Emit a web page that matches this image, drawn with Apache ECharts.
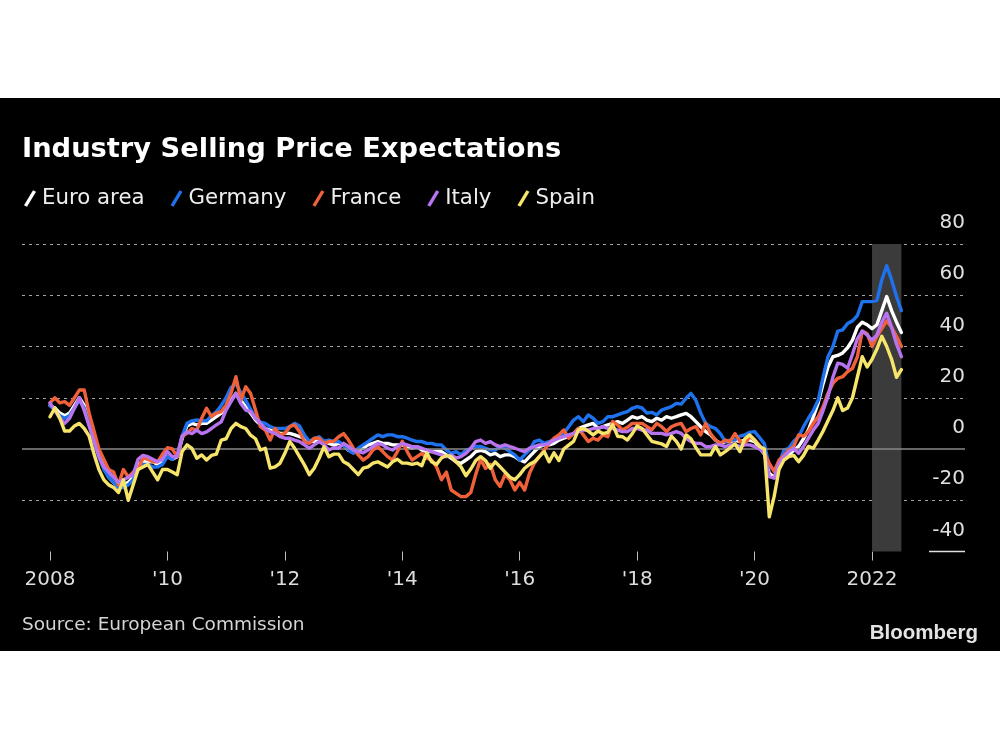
<!DOCTYPE html>
<html>
<head>
<meta charset="utf-8">
<script src="https://cdn.jsdelivr.net/npm/echarts@6/dist/echarts.min.js"></script>
<style>
html,body{margin:0;padding:0;background:#fff;}
#chart{width:1000px;height:750px;background:linear-gradient(to bottom,#fff 0,#fff 98px,#000 98px,#000 651px,#fff 651px,#fff 750px);}
</style>
</head>
<body>
<div id="chart"></div>
<script>
// Monthly data, Jan 2008 .. Jul 2022 (balance of responses)
const startYear = 2008;
const seriesNames = ['Euro area', 'Germany', 'France', 'Italy', 'Spain'];
const euroArea = [
 17,16,14,13,14,17,20,17,11,4,-2,-7,
 -11,-13,-15,-14,-13,-11,-6,-5,-5,-5,-6,-5,
 -3,-4,-3,4,9,10,9.4,10,10,11.3,12.6,14,
 16.5,19,21.7,19,16.5,14,11.3,9.4,8,7.4,6.8,6.1,
 6.1,6.1,5.5,4.8,4.2,2.9,2.9,3.5,2.9,2.2,1.5,2.2,
 1.5,-0.5,-1,-0.5,0.3,1.6,2.2,2.9,2.2,2.2,1.6,1.6,
 1.6,0.9,0.3,0.9,-0.4,-1,-1,-1,-1,-2.3,-3.6,-5,
 -5.6,-4.3,-3,-1,-0.5,-1,-2.3,-1.7,-3,-2.3,-2.3,-3,
 -4.3,-5,-3,-1,0.9,1.6,1.6,2.2,3.5,4.2,4.8,6.1,
 8,8.7,9.4,10,8,8.7,9.4,10,10.7,10,11.3,12.6,
 12,12.6,11.3,10.7,12,11.3,12.6,12,12.6,13.3,13.9,12.6,
 10.7,8.7,6.8,5.5,3.5,2.2,2.9,2.9,3.5,2.9,3.5,3.5,
 2.9,0.5,-2,-9.5,-11,-7,-3,-2.3,-0.5,1,4,7.5,
 12.5,18,25.5,32,36,36.5,37.5,39.5,42.5,47.5,49.5,48.5,
 47,48.5,54,59.5,54,49.5,45.5
];
const germany = [
 17,15,13,12,13,16,19,16,10,3,-3,-8,
 -11,-13,-15,-15,-14,-12,-8,-6,-6,-7,-7,-6,
 -3,-4,-2,5,10,11,11.3,11,11,13,14.5,17,
 20,24,25.5,22,19,15.5,12,10.5,10,8.7,8,8,
 8,8.7,10,9,5.4,3,4,4.8,3,3.5,2.9,2.9,
 1.6,-0.4,-1.7,0.3,1.6,2.9,4.2,5.5,4.8,5.5,5.5,4.8,
 4.8,4.2,3.5,2.9,2.9,2.2,2.2,1.6,1.6,-0.4,-1.7,-1,
 -2.3,-0.4,0,1,1,0.3,-0.4,-0.4,0.9,0.3,-1,-2.3,
 -4.3,-2.3,-0.4,2.9,3.5,2.2,2.9,3.5,4.8,6.1,8.7,11.3,
 12.6,10.7,13.3,12,10,10.7,12.6,12.6,13.3,14,14.6,15.9,
 16.5,16,14,14.3,13.3,15.2,15.9,16.5,17.8,17.5,19.8,21.7,
 19,14,10,8.7,8,6,3,3.5,3.5,5,5.5,6.5,
 6.8,4.5,2,-7,-8,-5.6,-0.4,0.3,3,4.8,8.7,12,
 15,19,28,36,40,46,46.5,49,50,52,57.5,57.5,
 57.5,58,66,71.5,66,59.5,54
];
const france = [
 18,20,18,18.5,17,20,23,23,14,7,0,-4,
 -8,-9,-14,-8,-11,-9,-8,-3.5,-4,-5,-5,-2,
 0.5,0,-3,5,6.1,8,7.4,12,15.9,12.6,14,14.6,
 17.2,21.7,28.2,19,24.3,21.7,15.2,8.7,7.4,3.5,8,5.4,
 6.1,8.7,9.4,6.7,2.9,2.2,4.2,4.2,2.2,2.9,3,4.8,
 6,3.5,0.3,-2.3,-4.3,-3,-0.4,0.9,-1,-3,-4.3,-1,
 3,-1,-4.3,-3,-1.7,-3.6,-4.3,-7,-12,-9,-16,-17.3,
 -18.6,-18.6,-17,-10,-4,-7.6,-6,-12,-14.6,-10,-12,-16,
 -13,-16,-9.5,-5.5,-3,-0.4,2.2,4.2,5.5,7.4,4.2,6,
 8,5.5,2.9,4.2,3.5,5.5,4.8,10.7,9.4,7.4,8.5,10,
 10,10,8.7,7.5,10,8.7,6.8,8.7,9.5,10,6.8,8,
 8.7,5.5,10,6,3.5,2.2,3.5,3,6,3,2,4.8,
 3.5,1.5,-1.5,-5.6,-8.8,-4.3,-2.5,-0.4,1,5.5,5,6.8,
 10,12.6,16.5,21.7,25.6,27.6,28.2,30.2,31.5,36,46,45,
 40,44,47,50,47.5,44,40
];
const italy = [
 18,15,12,10,12,16,20,15,9,3,-3,-7,
 -9,-11,-13,-12,-11,-10,-4,-2.5,-3,-4,-5,-4,
 -1,-3,-3,5,6.7,6,7.4,6,6.7,8,9.4,10.6,
 15.2,18.5,21.7,17.8,15.2,14.6,12,10,8,6.7,6.1,4.8,
 4.2,4.2,3.5,2.9,1.6,0.3,1.6,2.9,1.6,-0.4,0.5,0.3,
 2.2,1,-0.4,-1,-1.5,-0.4,1,2.2,1.6,0.3,-0.4,1,
 2.2,1.6,0.9,0.9,0.3,-0.4,-1,-1.7,-2.3,-3,-2.3,-3.6,
 -3,-1.7,0.3,2.9,3.5,2.2,2.9,1.6,0.9,1.6,0.9,0.3,
 -0.4,-1,0.3,0.9,1.6,1.6,2.2,3.5,4.2,4.8,5.5,6.1,
 6.8,7.4,7.4,8,8,8.7,8,8,7.4,6.8,6.8,8,
 8,7.4,7.4,6.1,6.1,6.1,5.5,6.1,6.8,6.1,4.2,2.9,
 2.2,2.2,0.9,0.9,1.6,1.6,0.9,1.6,1.6,0.9,1.6,1.6,
 0.9,0,-1.5,-10.8,-11.4,-5.6,-3,-1,0.3,-1.7,1,4.2,
 7.4,10,15,20.5,28,33.5,33,31.5,37,43,46,44.5,
 42.5,44.5,49.5,53,47.5,41,36
];
const spain = [
 12.6,16,12,7,7,9,10,8,5,-2,-8,-12,
 -14,-15,-17,-12,-20,-14,-8,-7,-6,-9,-12,-8,
 -8,-9,-10,-1,1.6,0.2,-3.6,-2.3,-4.3,-2.5,-2,3.5,
 4,8,10,8.7,8,5.4,4,-0.4,0.3,-7.5,-7,-5.6,
 -1.7,2.9,0.3,-3,-6.2,-10,-7.5,-3.6,0.9,-3,-2,-2,
 -5,-6,-8,-10,-7.5,-7,-5.5,-5,-6,-7,-5,-4,
 -5.5,-5.5,-6,-5.5,-6.5,-1.5,-5,-6,-3.5,-2.5,-3,-5,
 -7,-10.4,-7.8,-4.5,-3,-4.5,-7.5,-5,-7,-9,-11,-12,
 -10,-7.5,-6,-5,-3,-1,-5,-1.5,-4.5,0,1.5,3,
 7.5,8,7,5.5,7,6,6.5,9.5,5,4.8,3.5,6,
 9,8,5.5,3,2.5,2,1,5,3,0,5.5,4,
 0.5,-2.3,-2.3,-2.3,1,-2.3,-1,0.5,2,-1,4,5.5,
 3.5,1,0,-26.5,-18.5,-8,-4.3,-3,-2.5,-5,-2.5,1,
 0.3,3.5,7,11,15,20,15,16,20,28,36,32,
 35,39,44,40,35,28,31
];
const seriesValues = [euroArea, germany, france, italy, spain];
const seriesColors = ['#ffffff', '#1f72ee', '#f0613a', '#b873ef', '#f7e46a'];
// x tick positions (months since Jan 2008) and their labels
const xTickMonths = [0, 24, 48, 72, 96, 120, 144, 168];
const xTickLabels = ['2008', "'10", "'12", "'14", "'16", "'18", "'20", '2022'];
const yTicks = [-40, -20, 0, 20, 40, 60, 80];
// highlighted period: Jan 2022 .. Jul 2022
const shadeStart = 168, shadeEnd = 174;

const FONT = "'DejaVu Sans', sans-serif";
const toPairs = arr => arr.map((v, i) => [i, v]);
const slash = 'path://M0,15 L9,0 L12,1.6 L3,16.6 Z';

const chart = echarts.init(document.getElementById('chart'), null, {renderer: 'canvas'});

const lineSeries = seriesNames.map((name, k) => ({
  name, type: 'line', data: toPairs(seriesValues[k]),
  showSymbol: false, symbol: 'none', smooth: false,
  lineStyle: {width: 3.4, color: seriesColors[k], join: 'round', cap: 'round'},
  itemStyle: {color: seriesColors[k]},
  z: 3 + k, animation: false
}));

const option = {
  backgroundColor: 'transparent',
  animation: false,
  textStyle: {fontFamily: FONT},
  title: [
    {text: 'Industry Selling Price Expectations', left: 17, top: 131,
     textStyle: {color: '#ffffff', fontSize: 27.3, fontWeight: 'bold', fontFamily: FONT}},
    {text: 'Source: European Commission', left: 17, top: 611,
     textStyle: {color: '#d4d4d4', fontSize: 18.5, fontWeight: 'normal', fontFamily: FONT}},
    {text: 'Bloomberg', right: 17, top: 618,
     textStyle: {color: '#e4e4e4', fontSize: 20.5, fontWeight: 'bold', fontFamily: "'Liberation Sans', Arial, sans-serif"}}
  ],
  legend: {
    data: seriesNames.map(n => ({name: n, icon: slash})),
    left: 19, top: 183, itemWidth: 12, itemHeight: 17, itemGap: 26,
    selectedMode: false,
    textStyle: {color: '#eeeeee', fontSize: 21.3, fontFamily: FONT, padding: [0, 0, 0, 1]}
  },
  grid: {left: 22, right: 35, top: 244, bottom: 198.5, containLabel: false},
  xAxis: {
    type: 'value', min: -5.72, max: 187.0,
    axisLine: {show: false, onZero: false},
    splitLine: {show: false},
    axisTick: {show: true, customValues: xTickMonths, length: 9, lineStyle: {color: '#bdbdbd', width: 1}},
    axisLabel: {customValues: xTickMonths, color: '#dddddd', fontSize: 20, margin: 18, fontFamily: FONT,
      formatter: v => xTickLabels[xTickMonths.indexOf(v)] || ''}
  },
  yAxis: {
    type: 'value', position: 'right', min: -40, max: 80, interval: 20,
    axisLine: {show: false}, axisTick: {show: false},
    axisLabel: {inside: true, margin: 0, color: '#e0e0e0', fontSize: 20, fontFamily: FONT,
      verticalAlign: 'bottom', align: 'right', padding: [0, 0, 11, 0]},
    splitLine: {show: true, lineStyle: {type: [3, 4], width: 1.2,
      color: yTicks.map(t => (t === -40 || t === 0) ? 'rgba(0,0,0,0)' : '#a3a3a3')}}
  },
  graphic: [
    {type: 'line', shape: {x1: 929, y1: 551.5, x2: 965, y2: 551.5},
     style: {stroke: '#e0e0e0', lineWidth: 1.5}, z: 10}
  ],
  series: [
    {name: '_band', type: 'line', data: [[shadeStart, null]], symbol: 'none', silent: true, z: 1,
     lineStyle: {opacity: 0},
     markArea: {silent: true, itemStyle: {color: '#3b3b3b'},
       data: [[{xAxis: shadeStart}, {xAxis: shadeEnd}]]},
     markLine: {silent: true, symbol: ['none', 'none'], label: {show: false},
       lineStyle: {type: 'solid', color: '#8a8a8a', width: 1.5},
       data: [{yAxis: 0}]}
    },
    ...lineSeries
  ]
};
chart.setOption(option);
</script>
</body>
</html>
